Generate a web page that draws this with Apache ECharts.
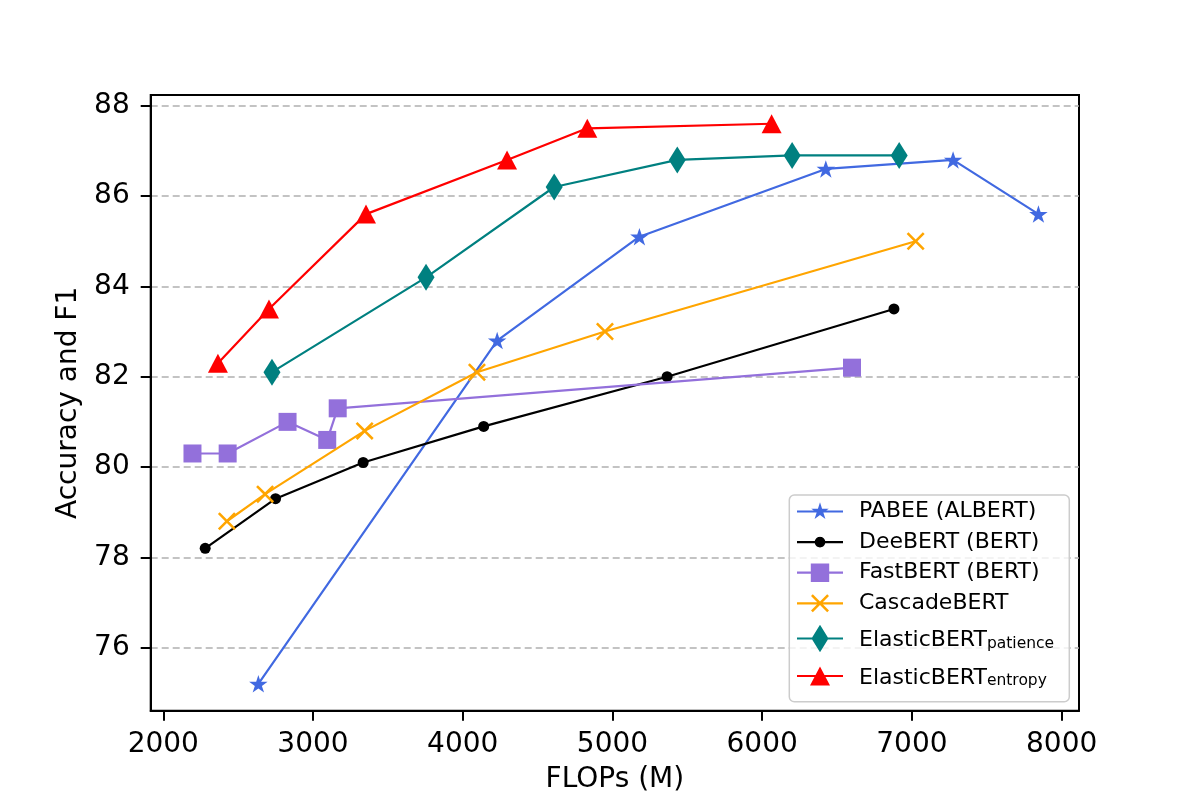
<!DOCTYPE html>
<html><head><meta charset="utf-8">
<script src="https://cdn.jsdelivr.net/npm/echarts@6/dist/echarts.min.js"></script>
<style>html,body{margin:0;padding:0;background:#fff}#c{width:1200px;height:800px}</style>
</head><body><div id="c"></div>
<script>
// ---- data ----
const seriesNames = ['PABEE (ALBERT)', 'DeeBERT (BERT)', 'FastBERT (BERT)', 'CascadeBERT', 'ElasticBERT_patience', 'ElasticBERT_entropy'];
const pabeeX = [2635, 4230, 5180, 6425, 7275, 7845];
const pabeeY = [75.2, 82.8, 85.1, 86.6, 86.8, 85.6];
const deebertX = [2280, 2750, 3335, 4140, 5365, 6880];
const deebertY = [78.2, 79.3, 80.1, 80.9, 82.0, 83.5];
const fastbertX = [2195, 2430, 2830, 3095, 3165, 6600];
const fastbertY = [80.3, 80.3, 81.0, 80.6, 81.3, 82.2];
const cascadeX = [2425, 2680, 3345, 4095, 4950, 7025];
const cascadeY = [78.8, 79.4, 80.8, 82.1, 83.0, 85.0];
const patienceX = [2726, 3755, 4611, 5433, 6200, 6915];
const patienceY = [82.1, 84.2, 86.2, 86.8, 86.9, 86.9];
const entropyX = [2365, 2706, 3354, 4296, 4832, 6063];
const entropyY = [82.3, 83.5, 85.6, 86.8, 87.5, 87.6];
const xTicks = [2000, 3000, 4000, 5000, 6000, 7000, 8000];
const yTicks = [76, 78, 80, 82, 84, 86, 88];

// ---- helpers for marker shapes ----
const FONT = 'DejaVu Sans';
function poly(pts) { return 'M' + pts.map(p => p[0].toFixed(2) + ',' + p[1].toFixed(2)).join('L') + 'Z'; }
function starPts(cx, cy, R) {
  const pts = [];
  for (let i = 0; i < 10; i++) {
    const a = -Math.PI / 2 + i * Math.PI / 5;
    const r = (i % 2) ? R * 0.382 : R;
    pts.push([cx + r * Math.cos(a), cy + r * Math.sin(a)]);
  }
  return pts;
}
function circlePts(cx, cy, r) {
  const pts = [];
  for (let i = 0; i < 36; i++) { const a = i * Math.PI * 2 / 36; pts.push([cx + r * Math.cos(a), cy + r * Math.sin(a)]); }
  return pts;
}
function squarePts(cx, cy, h) { return [[cx - h, cy - h], [cx + h, cy - h], [cx + h, cy + h], [cx - h, cy + h]]; }
function diamondPts(cx, cy, hw, hh) { return [[cx, cy - hh], [cx + hw, cy], [cx, cy + hh], [cx - hw, cy]]; }
function triPts(cx, cy, hw, hh) { return [[cx, cy - hh], [cx + hw, cy + hh], [cx - hw, cy + hh]]; }
function xPts(cx, cy, s) {
  const base = [[0,2],[2,0],[10,8],[18,0],[20,2],[12,10],[20,18],[18,20],[10,12],[2,20],[0,18],[8,10]];
  return base.map(p => [cx + (p[0] - 10) * s, cy + (p[1] - 10) * s]);
}
const IW = 46, IH = 28, CX = IW / 2, CY = IH / 2;
function legendIcon(markerPath) {
  return 'path://' + poly([[0, CY - 1.1], [IW, CY - 1.1], [IW, CY + 1.1], [0, CY + 1.1]]) + markerPath +
    'M0,0L0,0Z' + 'M' + IW + ',' + IH + 'L' + IW + ',' + IH + 'Z';
}
const icons = [
  legendIcon(poly(starPts(CX, CY, 9.2))),
  legendIcon(poly(circlePts(CX, CY, 5.3))),
  legendIcon(poly(squarePts(CX, CY, 9.2))),
  legendIcon(poly(xPts(CX, CY, 0.9))),
  legendIcon(poly(diamondPts(CX, CY, 8.5, 13.7))),
  legendIcon(poly(triPts(CX, CY, 10, 9.5)))
];
const starSymbol = 'path://' + poly(starPts(0, 0, 10));
const xSymbol = 'path://' + poly(xPts(0, 0, 1));

function zip(xs, ys) { return xs.map((x, i) => [x, ys[i]]); }

const colors = ['#4169E1', '#000000', '#9370DB', '#FFA500', '#008080', '#FF0000'];
const symbols = [starSymbol, 'circle', 'rect', xSymbol, 'diamond', 'triangle'];
const symbolSizes = [[18.5, 17.5], 11, 18, 18, [17, 27], [20, 19]];
const dataSets = [zip(pabeeX, pabeeY), zip(deebertX, deebertY), zip(fastbertX, fastbertY),
  zip(cascadeX, cascadeY), zip(patienceX, patienceY), zip(entropyX, entropyY)];

const series = seriesNames.map((n, i) => ({
  name: n, type: 'line', data: dataSets[i],
  symbol: symbols[i], symbolSize: symbolSizes[i], showAllSymbol: true,
  lineStyle: { color: colors[i], width: 2.2 },
  itemStyle: { color: colors[i], borderWidth: 0 },
  emphasis: { disabled: true },
  z: 2 + i * 0.01
}));

function fmt(name) {
  if (name.indexOf('ElasticBERT_') === 0) return '{m|ElasticBERT}{s|' + name.slice(12) + '}';
  return name;
}
const legendBase = {
  orient: 'vertical', left: 797, padding: 0, itemWidth: IW, itemHeight: IH, itemGap: 2.6,
  formatter: fmt, selectedMode: false,
  itemStyle: { borderWidth: 0 },
  textStyle: {
    fontSize: 22, fontFamily: FONT, color: '#000', padding: [0, 0, 0, 11],
    rich: {
      m: { fontSize: 22, fontFamily: FONT, color: '#000', lineHeight: 26, verticalAlign: 'bottom' },
      s: { fontSize: 15.5, fontFamily: FONT, color: '#000', lineHeight: 15, verticalAlign: 'bottom' }
    }
  }
};
const legendItems = seriesNames.map((n, i) => ({ name: n, icon: icons[i] }));

const chart = echarts.init(document.getElementById('c'), null, { renderer: 'canvas' });
chart.setOption({
  animation: false,
  backgroundColor: '#fff',
  grid: { left: 150.7, right: 121, top: 95, bottom: 89.3, show: true, borderColor: '#000', borderWidth: 2, backgroundColor: 'transparent' },
  xAxis: {
    type: 'value', min: 1916, max: 8116,
    name: 'FLOPs (M)', nameLocation: 'middle', nameGap: 55,
    nameTextStyle: { fontSize: 28, fontFamily: FONT, color: '#000' },
    axisLine: { show: true, lineStyle: { color: '#000', width: 2 } },
    axisTick: { show: true, length: 10, customValues: xTicks, lineStyle: { color: '#000', width: 2 } },
    axisLabel: { customValues: xTicks, formatter: v => String(v), fontSize: 28, fontFamily: FONT, color: '#000', margin: 20 },
    splitLine: { show: false }
  },
  yAxis: {
    type: 'value', min: 74.605, max: 88.237,
    name: 'Accuracy and F1', nameLocation: 'middle', nameGap: 68, nameRotate: 90,
    nameTextStyle: { fontSize: 28, fontFamily: FONT, color: '#000' },
    axisLine: { show: true, lineStyle: { color: '#000', width: 2 } },
    axisTick: { show: true, length: 10, customValues: yTicks, lineStyle: { color: '#000', width: 2 } },
    axisLabel: { customValues: yTicks, formatter: v => String(v), fontSize: 28, fontFamily: FONT, color: '#000', margin: 21 },
    splitLine: { show: true, lineStyle: { color: '#b0b0b0', width: 1.5, type: [7, 4] } }
  },
  legend: [
    Object.assign({}, legendBase, { top: 497.5, data: legendItems.slice(0, 4) }),
    Object.assign({}, legendBase, { top: 624.5, data: legendItems.slice(4, 5) }),
    Object.assign({}, legendBase, { top: 662, data: legendItems.slice(5, 6) })
  ],
  graphic: [{
    type: 'rect', z: 3, silent: true,
    shape: { x: 789.3, y: 495, width: 280, height: 206.7, r: 5 },
    style: { fill: 'rgba(255,255,255,0.8)', stroke: '#cccccc', lineWidth: 1.5 }
  }],
  series: series
});
</script>
</body></html>
